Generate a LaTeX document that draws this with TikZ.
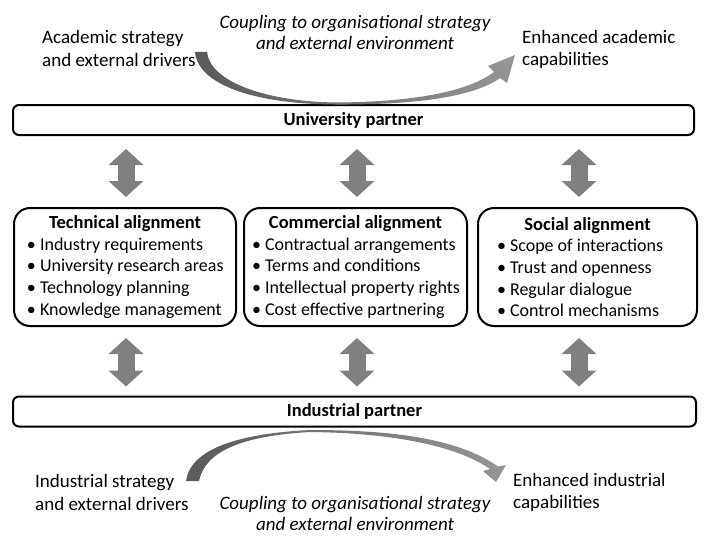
\documentclass[tikz,border=0pt]{standalone}
\usepackage{fontspec}
\setmainfont{Carlito}
\usetikzlibrary{positioning,arrows.meta,calc}

\definecolor{arrowgrey}{RGB}{128,128,128}
\definecolor{curvedark}{RGB}{90,90,90}
\definecolor{curvelight}{RGB}{150,150,150}

\newcommand{\bul}[1]{\mbox{\textbullet~#1}}
\newcommand{\boxtitle}[1]{\hfill{\fontsize{18.5}{21.7}\selectfont\bfseries #1}\hfill\mbox{}}

\begin{document}
\begin{tikzpicture}[x=1pt,y=-1pt,
    every node/.style={inner sep=0pt, font=\fontsize{18}{21.7}\selectfont},
    partnerbox/.style={draw, line width=2pt, rounded corners=6pt, minimum height=30pt, font=\fontsize{18.5}{21.7}\selectfont\bfseries},
    alignbox/.style={draw, line width=2pt, rounded corners=16pt, align=flush left, minimum height=118pt},
    dblarrow/.style={draw=arrowgrey, line width=17pt, {Triangle[width=34pt,length=16pt]}-{Triangle[width=34pt,length=16pt]}},
    sidetext/.style={align=flush left, anchor=west, font=\fontsize{19}{22.5}\selectfont},
    coupling/.style={align=flush center, font=\fontsize{19}{21}\selectfont\itshape}]
    \useasboundingbox (0,0) rectangle (706,535);

    % partners
    \node[partnerbox, minimum width=681pt] (uni) at (353.5,120) {University partner};
    \node[partnerbox, minimum width=683pt] (ind) at (354.5,411.5) {Industrial partner};

    % alignment boxes
    \node[alignbox, inner xsep=13pt, text width=196pt] (tech) at (125,267) {\boxtitle{Technical alignment}\\
        \bul{Industry requirements}\\
        \bul{University research areas}\\
        \bul{Technology planning}\\
        \bul{Knowledge management}};
    \node[alignbox, inner xsep=8pt, text width=207pt] (comm) at (355.5,267) {\boxtitle{Commercial alignment}\\
        \bul{Contractual arrangements}\\
        \bul{Terms and conditions}\\
        \bul{Intellectual property rights}\\
        \bul{Cost effective partnering}};
    \node[alignbox, inner xsep=19pt, text width=181pt] (soc) at (587.5,267) {\boxtitle{Social alignment}\\
        \bul{Scope of interactions}\\
        \bul{Trust and openness}\\
        \bul{Regular dialogue}\\
        \bul{Control mechanisms}};

    % two-way links
    \coordinate (tcol) at (126,0);
    \coordinate (ccol) at (357,0);
    \coordinate (scol) at (579,0);
    \foreach \c/\b in {tcol/tech, ccol/comm, scol/soc} {
        \draw[dblarrow, shorten <=13pt, shorten >=10pt] (\c |- uni.south) -- (\c |- \b.north);
        \draw[dblarrow, shorten <=11pt, shorten >=9pt] (\c |- \b.south) -- (\c |- ind.north);
    }

    % academic side
    \node[sidetext] (acadin) at (42,48.5) {Academic strategy\\and external drivers};
    \node[coupling] (acadcoup) at (355,32) {Coupling to organisational strategy\\and external environment};
    \node[sidetext] (acadout) at (522,49.5) {Enhanced academic\\capabilities};
    \shade[left color=curvedark, right color=curvelight]
        (195,52) -- (207,52) .. controls (210,80) and (260,101) .. (335,102.5)
        .. controls (420,102) and (470,90) .. (494,72) -- (488,66) -- (515,55)
        -- (507,83) -- (500,78) .. controls (475,96) and (420,105) .. (335,104.5)
        .. controls (255,104) and (198,85) .. (195,52) -- cycle;

    % industrial side
    \node[sidetext] (indin) at (35,492.5) {Industrial strategy\\and external drivers};
    \node[coupling] (indcoup) at (355,513) {Coupling to organisational strategy\\and external environment};
    \node[sidetext] (indout) at (513,492.5) {Enhanced industrial\\capabilities};
    \shade[left color=curvedark, right color=curvelight]
        (186,481) .. controls (190,452) and (230,434) .. (310,430)
        .. controls (400,430) and (460,440) .. (498,466.5) -- (506,465) -- (496,482)
        -- (483,471) -- (490,469) .. controls (460,448) and (400,433) .. (310,432)
        .. controls (240,436) and (205,452) .. (199,481) -- cycle;
\end{tikzpicture}
\end{document}
